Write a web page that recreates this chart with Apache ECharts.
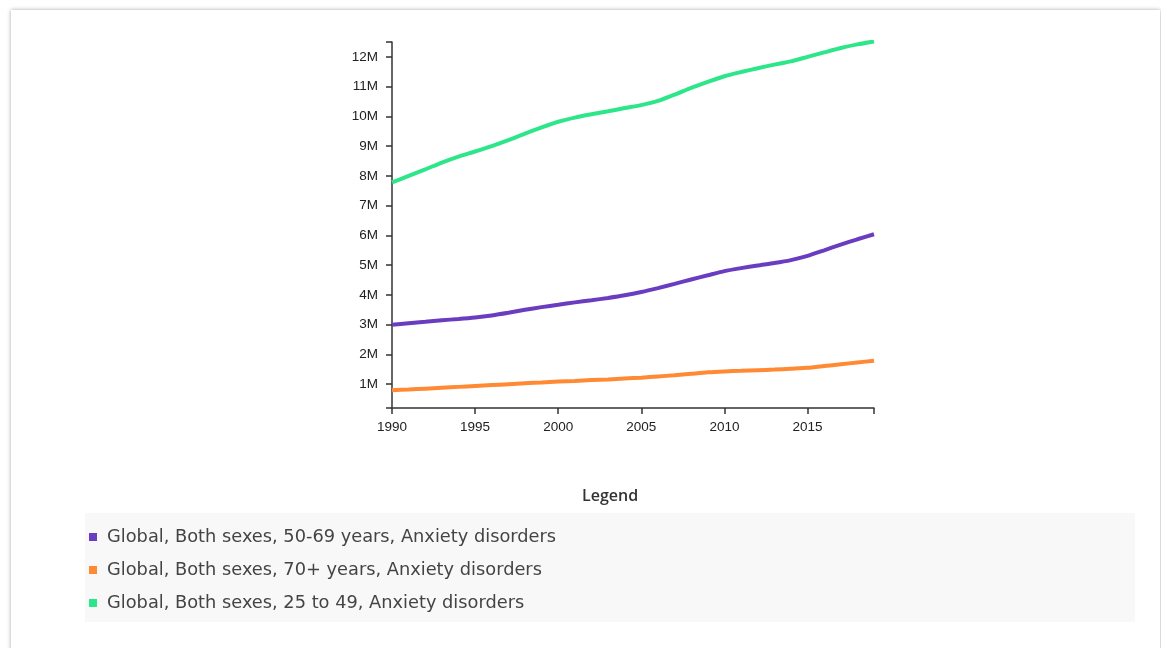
<!DOCTYPE html>
<html>
<head>
<meta charset="utf-8">
<script src="https://cdn.jsdelivr.net/npm/echarts@6/dist/echarts.min.js"></script>
<style>
  html, body { margin: 0; padding: 0; background: #ffffff; width: 1161px; height: 648px; overflow: hidden; }
  #card { position: absolute; left: 11px; top: 10px; width: 1149px; height: 700px; background: #fff;
          box-shadow: 0 0 4px rgba(0,0,0,0.35); }
  #chart { position: absolute; left: 0; top: 0; width: 1161px; height: 648px; }
</style>
</head>
<body>
<div id="card"></div>
<div id="chart"></div>
<script>
// ---- data ----
const years = [1990,1991,1992,1993,1994,1995,1996,1997,1998,1999,2000,2001,2002,2003,2004,2005,2006,2007,2008,2009,2010,2011,2012,2013,2014,2015,2016,2017,2018,2019];
const seriesNames = [
  'Global, Both sexes, 50-69 years, Anxiety disorders',
  'Global, Both sexes, 70+ years, Anxiety disorders',
  'Global, Both sexes, 25 to 49, Anxiety disorders'
];
// values in millions
const age50to69 = [3.00,3.05,3.10,3.15,3.19,3.24,3.31,3.40,3.50,3.59,3.67,3.75,3.82,3.90,3.99,4.10,4.23,4.37,4.52,4.66,4.80,4.90,4.99,5.07,5.17,5.31,5.50,5.69,5.87,6.04];
const age70plus = [0.80,0.82,0.85,0.88,0.91,0.94,0.97,1.00,1.03,1.06,1.09,1.11,1.14,1.16,1.19,1.22,1.26,1.30,1.35,1.40,1.43,1.45,1.47,1.49,1.52,1.55,1.61,1.67,1.73,1.79];
const age25to49 = [7.78,8.00,8.22,8.45,8.65,8.82,9.00,9.20,9.42,9.63,9.82,9.96,10.07,10.17,10.28,10.38,10.52,10.73,10.96,11.16,11.35,11.49,11.62,11.74,11.85,12.00,12.15,12.30,12.42,12.52];
const xTickLabels = [1990,1995,2000,2005,2010,2015];
const yTickLabels = [1,2,3,4,5,6,7,8,9,10,11,12]; // millions
const yMin = 0.2, yMax = 12.5; // millions

const colors = ['#6a3dc0', '#ff8a33', '#2ee68a'];
const M = 1e6;

function pairs(vals) { return years.map((y, i) => [y, vals[i] * M]); }

const chart = echarts.init(document.getElementById('chart'), null, { renderer: 'canvas' });
const axisColor = '#333';
const option = {
  animation: false,
  backgroundColor: 'transparent',
  color: colors,
  grid: { left: 392, right: 287, top: 42, bottom: 240, containLabel: false },
  title: {
    text: 'Legend', left: 577, top: 483,
    textStyle: { fontFamily: 'Open Sans', fontSize: 16, fontWeight: 600, color: '#333' }
  },
  graphic: [{
    type: 'rect', z: -1, silent: true,
    shape: { x: 85, y: 513, width: 1050, height: 109 },
    style: { fill: '#f8f8f8' }
  }],
  legend: {
    orient: 'vertical', left: 84, top: 522,
    icon: 'rect', itemWidth: 8, itemHeight: 8, itemGap: 13,
    selectedMode: false,
    data: seriesNames,
    textStyle: { fontFamily: 'DejaVu Sans', fontSize: 17.8, color: '#444', lineHeight: 20, padding: [0, 0, 0, 5] }
  },
  xAxis: {
    type: 'value', min: years[0], max: years[years.length - 1],
    axisLine: { show: true, onZero: false, lineStyle: { color: axisColor, width: 1.5 } },
    axisTick: { show: true, length: 6, customValues: xTickLabels.concat([years[years.length - 1]]), lineStyle: { color: axisColor, width: 1.5 } },
    axisLabel: { customValues: xTickLabels, margin: 12, fontFamily: 'Liberation Sans', fontSize: 13.5, color: '#222', formatter: v => String(v) },
    splitLine: { show: false }
  },
  yAxis: {
    type: 'value', min: yMin * M, max: yMax * M,
    axisLine: { show: true, lineStyle: { color: axisColor, width: 1.5 } },
    axisTick: { show: true, length: 6, customValues: [yMin * M].concat(yTickLabels.map(v => v * M), [yMax * M]), lineStyle: { color: axisColor, width: 1.5 } },
    axisLabel: { customValues: yTickLabels.map(v => v * M), margin: 14, fontFamily: 'Liberation Sans', fontSize: 13.5, color: '#222', formatter: v => Math.round(v / M) + 'M' },
    splitLine: { show: false }
  },
  series: [
    { name: seriesNames[0], type: 'line', data: pairs(age50to69), showSymbol: false, smooth: 0.2, lineStyle: { width: 4, color: colors[0] }, itemStyle: { color: colors[0] } },
    { name: seriesNames[1], type: 'line', data: pairs(age70plus), showSymbol: false, smooth: 0.2, lineStyle: { width: 4, color: colors[1] }, itemStyle: { color: colors[1] } },
    { name: seriesNames[2], type: 'line', data: pairs(age25to49), showSymbol: false, smooth: 0.2, lineStyle: { width: 4, color: colors[2] }, itemStyle: { color: colors[2] } }
  ]
};
chart.setOption(option);
</script>
</body>
</html>
